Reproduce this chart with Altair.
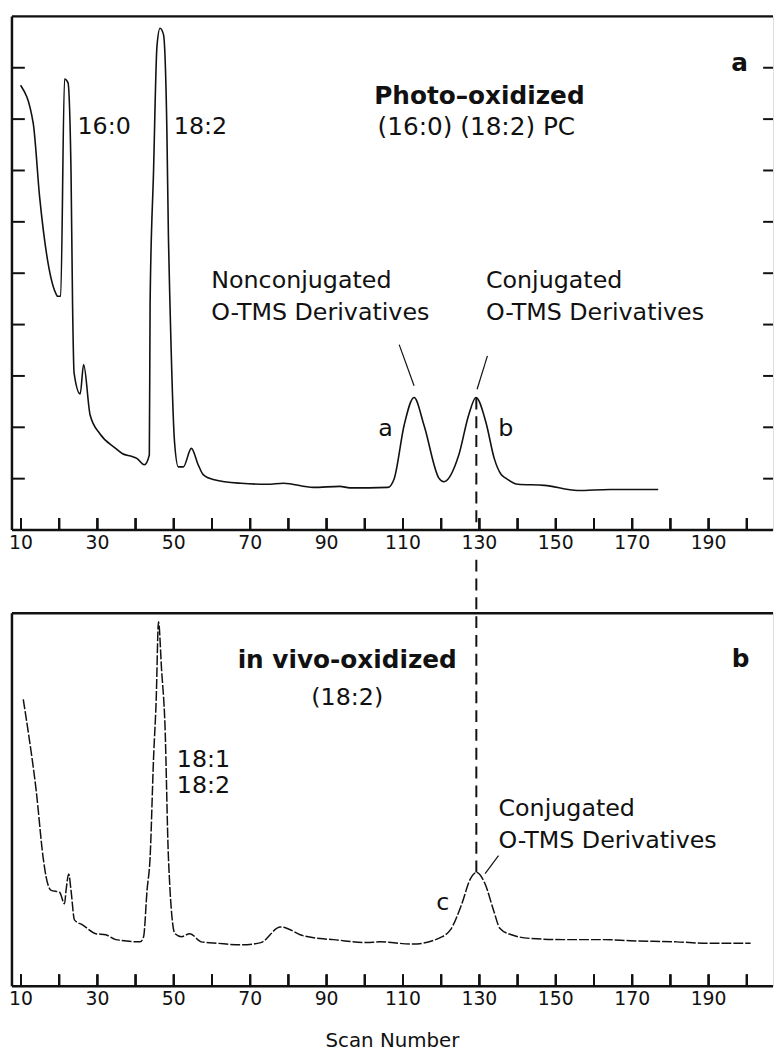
import altair as alt
import pandas as pd

# ---------------- data ----------------
# panel a: photo-oxidized (16:0)(18:2) PC
top_scan = [9.9, 13.2, 14.9, 19.1, 19.6, 20.4, 21.4, 22.3, 23.1, 23.5, 23.9, 25.5, 26.4,
            28.1, 30.7, 34.6, 36.5, 39.1, 40.4, 42.3, 43.6, 43.8, 44.7, 45.6, 46.4, 47.3,
            48.2, 48.6, 49.0, 50.2, 51.2, 52.5, 54.6, 56.4, 57.7, 60.6, 67.6, 74.5, 78.7,
            86.5, 93.5, 96.1, 106.0, 107.7, 110.3, 112.9, 115.5, 119.4, 120.7, 124.6,
            127.2, 129.1, 131.7, 133.9, 135.7, 136.9, 140.1, 147.0, 155.7, 164.2, 169.4, 176.8]
top_signal = [8.66, 7.92, 6.47, 4.61, 4.55, 4.55, 8.78, 8.71, 6.98, 4.41, 3.06, 2.65, 3.22,
              2.24, 1.87, 1.60, 1.49, 1.43, 1.39, 1.27, 1.46, 4.41, 6.98, 9.42, 9.77, 9.65,
              7.75, 5.70, 4.41, 1.71, 1.23, 1.23, 1.59, 1.27, 1.08, 0.98, 0.91, 0.89, 0.91,
              0.83, 0.85, 0.82, 0.83, 1.00, 2.04, 2.58, 2.04, 1.01, 0.94, 1.46,
              2.24, 2.58, 2.10, 1.39, 1.08, 1.01, 0.89, 0.87, 0.77, 0.79, 0.79, 0.79]

# panel b: in vivo-oxidized (18:2)
bottom_scan = [10.6, 11.9, 14.0, 15.8, 16.6, 17.9, 20.1, 21.4, 21.8, 22.5, 23.1, 24.0, 26.2,
               29.6, 32.2, 34.8, 41.2, 42.1, 43.0, 43.8, 44.7, 45.4, 46.0, 46.8, 47.7, 48.6,
               50.3, 52.0, 54.2, 57.2, 61.6, 67.6, 72.8, 77.9, 79.7, 83.1, 88.3, 91.8, 100.4,
               103.9, 112.5, 120.3, 122.4, 125.4, 127.6, 129.3, 131.5, 133.7, 135.4, 138.4,
               143.6, 152.2, 162.6, 169.5, 181.6, 190.2, 201.0]
bottom_signal = [7.69, 6.82, 5.23, 3.45, 2.92, 2.57, 2.52, 2.21, 2.57, 3.01, 2.57, 1.78, 1.64,
                 1.41, 1.38, 1.25, 1.19, 1.33, 2.57, 3.45, 6.10, 7.69, 9.77, 8.49, 6.98, 3.45,
                 1.41, 1.33, 1.41, 1.19, 1.15, 1.11, 1.17, 1.59, 1.55, 1.38, 1.28, 1.25, 1.17,
                 1.19, 1.13, 1.33, 1.51, 2.21, 2.87, 3.05, 2.74, 2.04, 1.55, 1.38,
                 1.28, 1.25, 1.25, 1.22, 1.19, 1.15, 1.15]

x_tick_values = [10.0, 20.0, 30.0, 40.0, 50.0, 60.0, 70.0, 80.0, 90.0, 100.0,
                 110.0, 120.0, 130.0, 140.0, 150.0, 160.0, 170.0, 180.0, 190.0, 200.0]
x_label_values = [10, 30, 50, 70, 90, 110, 130, 150, 170, 190]
y_tick_values_top = [1, 2, 3, 4, 5, 6, 7, 8, 9]
x_title = "Scan Number"

# conjugated peak marker (dashed line)
marker_scan = 129.2
peak_b_signal = 2.58
peak_c_signal = 3.05

# annotations (text, scan, signal)
top_left_text = [("16:0", 24.8, 7.84), ("18:2", 50.0, 7.84),
                 ("Nonconjugated", 59.8, 4.84), ("O-TMS Derivatives", 59.8, 4.22),
                 ("Conjugated", 131.7, 4.84), ("O-TMS Derivatives", 131.7, 4.22)]
top_center_text = [("a", 105.4, 1.97), ("b", 136.9, 1.97)]
top_sub_text = [("(16:0) (18:2) PC", 129.2, 7.84)]
top_bold_text = [("Photo\u2013oxidized", 130.0, 8.44), ("a", 198.1, 9.09)]
top_leaders = [(109.0, 3.61, 112.9, 2.81), (132.1, 3.39, 129.4, 2.74)]

bot_left_text = [("18:1", 50.8, 6.05), ("18:2", 50.8, 5.36),
                 ("Conjugated", 135.0, 4.75), ("O-TMS Derivatives", 135.0, 3.90)]
bot_center_text = [("(18:2)", 95.4, 7.72), ("c", 120.4, 2.23)]
bot_bold_text = [("in vivo-oxidized", 95.4, 8.73), ("b", 198.4, 8.78)]
bot_leaders = [(131.5, 3.02, 135.0, 3.50)]

# ---------------- layout / style ----------------
FONT = "DejaVu Sans"
INK = "#111111"
W = 769
H_TOP = 519
H_BOT = 377
GAP = 84
TICK_PX = 12
PX_PER_SCAN = 3.86
X_DOMAIN = [7.64, 7.64 + W / PX_PER_SCAN]
Y_DOMAIN = [0, 10]

xs = alt.Scale(domain=X_DOMAIN, nice=False, zero=False)
ys = alt.Scale(domain=Y_DOMAIN, nice=False, zero=False)

one = pd.DataFrame({"k": [0]})


def X(field):
    return alt.X(field, scale=xs, axis=None)


def Y(field):
    return alt.Y(field, scale=ys, axis=None)


def frame(H):
    top = alt.Chart(one).mark_rule(color=INK, strokeWidth=2.5).encode(
        x=alt.value(0), x2=alt.value(W), y=alt.value(0))
    left = alt.Chart(one).mark_rule(color=INK, strokeWidth=2.5).encode(
        x=alt.value(0), y=alt.value(0), y2=alt.value(H))
    bottom = alt.Chart(one).mark_rule(color=INK, strokeWidth=2.5).encode(
        x=alt.value(0), x2=alt.value(W), y=alt.value(H))
    return [top, left, bottom]


def scan_axis(H, panel):
    n = len(x_tick_values)
    tmid = (TICK_PX / 2) * (Y_DOMAIN[1] - Y_DOMAIN[0]) / H
    tdf = pd.DataFrame({"tick_scan": x_tick_values,
                        "tick_mid": [tmid] * n,
                        "panel": [panel] * n})
    # inward ticks drawn three equivalent ways (they overlap exactly)
    sym = alt.Chart(tdf).mark_point(shape="M0,-1L0,1", size=TICK_PX * TICK_PX,
                                    filled=False, strokeWidth=2, color=INK,
                                    opacity=1).encode(
        x=X("tick_scan:Q"), y=alt.value(H - TICK_PX / 2))
    tks = alt.Chart(tdf).mark_tick(orient="vertical", size=TICK_PX, thickness=2,
                                   color=INK, opacity=1).encode(
        x=X("tick_scan:Q"), y=Y("tick_mid:Q"))
    rules = alt.Chart(tdf).mark_rule(color=INK, strokeWidth=2).encode(
        x=X("tick_scan:Q"), y=alt.value(H - TICK_PX), y2=alt.value(H))
    ldf = pd.DataFrame({"scan": x_label_values, "lab": [str(v) for v in x_label_values]})
    labels = alt.Chart(ldf).mark_text(font=FONT, fontSize=19, color=INK, align="center",
                                      baseline="middle").encode(
        x=X("scan:Q"), y=alt.value(H + 13), text="lab:N")
    return [sym, tks, rules, labels]


def texts(items, size, weight="normal", align="left"):
    df = pd.DataFrame(items, columns=["label", "scan", "sig"])
    return alt.Chart(df).mark_text(font=FONT, fontSize=size, fontWeight=weight, align=align,
                                   baseline="middle", color=INK).encode(
        x=X("scan:Q"), y=Y("sig:Q"), text="label:N")


def leaders(items):
    df = pd.DataFrame(items, columns=["x1", "y1", "x2", "y2"])
    return alt.Chart(df).mark_rule(color=INK, strokeWidth=1.2).encode(
        x=X("x1:Q"), y=Y("y1:Q"), x2="x2:Q", y2="y2:Q")


# ---------- top panel ----------
top_df = pd.DataFrame({"scan": top_scan, "sig": top_signal})
top_curve = alt.Chart(top_df).mark_line(color=INK, strokeWidth=1.6,
                                        interpolate="monotone").encode(
    x=X("scan:Q"), y=Y("sig:Q"))

ytick_df = pd.DataFrame({"sig": y_tick_values_top})
ytick_left = alt.Chart(ytick_df).mark_rule(color=INK, strokeWidth=2).encode(
    y=Y("sig:Q"), x=alt.value(0), x2=alt.value(13))
ytick_right = alt.Chart(ytick_df).mark_rule(color=INK, strokeWidth=2).encode(
    y=Y("sig:Q"), x=alt.value(W - 10), x2=alt.value(W))

mark_top_df = pd.DataFrame({"scan": [marker_scan], "sig": [peak_b_signal]})
dash_top = alt.Chart(mark_top_df).mark_rule(color=INK, strokeWidth=2,
                                            strokeDash=[12, 7]).encode(
    x=X("scan:Q"), y=Y("sig:Q"), y2=alt.value(H_TOP))

top = alt.layer(
    top_curve, *frame(H_TOP), ytick_left, ytick_right, dash_top,
    leaders(top_leaders),
    texts(top_left_text, 24), texts(top_center_text, 24, align="center"),
    texts(top_sub_text, 25, align="center"),
    texts(top_bold_text, 25, weight="bold", align="center"),
    *scan_axis(H_TOP, "a"),
).properties(width=W, height=H_TOP)

# ---------- bottom panel ----------
bot_df = pd.DataFrame({"scan": bottom_scan, "sig": bottom_signal})
bot_curve = alt.Chart(bot_df).mark_line(color=INK, strokeWidth=1.5, interpolate="monotone",
                                        strokeDash=[10, 2]).encode(
    x=X("scan:Q"), y=Y("sig:Q"))

mark_bot_df = pd.DataFrame({"scan": [marker_scan], "sig": [peak_c_signal]})
dash_bot = alt.Chart(mark_bot_df).mark_rule(color=INK, strokeWidth=2,
                                            strokeDash=[12, 7]).encode(
    x=X("scan:Q"), y=Y("sig:Q"), y2=alt.value(-55))

title_df = pd.DataFrame({"t": [x_title]})
bot_title = alt.Chart(title_df).mark_text(font=FONT, fontSize=20, color=INK, align="center",
                                          baseline="middle").encode(
    x=alt.value(W / 2), y=alt.value(H_BOT + 55), text="t:N")

bottom = alt.layer(
    bot_curve, *frame(H_BOT), dash_bot, leaders(bot_leaders),
    texts(bot_left_text, 24), texts(bot_center_text, 24, align="center"),
    texts(bot_bold_text, 25, weight="bold", align="center"), bot_title,
    *scan_axis(H_BOT, "b"),
).properties(width=W, height=H_BOT)

chart = alt.vconcat(top, bottom, spacing=GAP, bounds="flush").properties(
    padding={"left": 0, "top": 1, "right": 0, "bottom": 0},
    background="white",
).configure_view(stroke=None).configure(font=FONT)

chart.save("out.html", embed_options={"renderer": "svg", "actions": False})
